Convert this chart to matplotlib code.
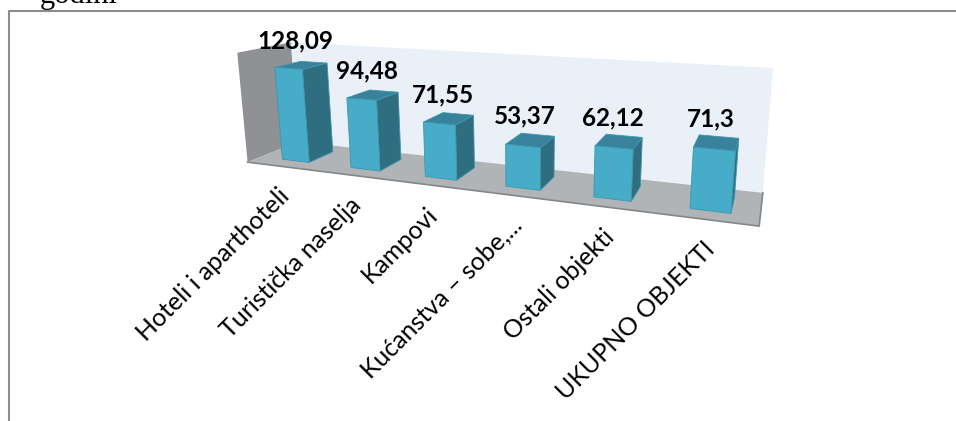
import numpy as np
import matplotlib
matplotlib.use("Agg")
import matplotlib.pyplot as plt
from matplotlib.patches import Polygon

categories = ["Hoteli i aparthoteli", "Turistička naselja", "Kampovi",
              "Kućanstva – sobe,...", "Ostali objekti", "UKUPNO OBJEKTI"]
values = [128.09, 94.48, 71.55, 53.37, 62.12, 71.3]
value_labels = ["128,09", "94,48", "71,55", "53,37", "62,12", "71,3"]
axis_max = 150

# box corners (x along categories, depth, height) and where they land on the page
box = np.array([[0, 0, 0], [1, 0, 0], [0, 1, 0], [1, 1, 0],
                [0, 0, 1], [0, 1, 1], [1, 1, 1]], float)
page = np.array([[248, 163], [759, 226], [298, 141], [763, 193],
                 [237, 52], [291, 43], [773, 68]], float)

# solve the camera (12 entries, last one fixed to 1)
A, b = [], []
for (X, Y, Z), (u, v) in zip(box, page):
    A.append([X, Y, Z, 1, 0, 0, 0, 0, -u * X, -u * Y, -u * Z])
    A.append([0, 0, 0, 0, X, Y, Z, 1, -v * X, -v * Y, -v * Z])
    b += [u, v]
cam = np.append(np.linalg.lstsq(np.array(A), np.array(b), rcond=None)[0], 1).reshape(3, 4)


def proj(X, Y, Z):
    p = cam @ np.array([X, Y, Z, 1.0])
    return p[:2] / p[2]


def face(ax, pts, **kw):
    ax.add_patch(Polygon([proj(*q) for q in pts], closed=True, **kw))


fig = plt.figure(figsize=(9.56, 4.21), dpi=100)
ax = fig.add_axes([0, 0, 1, 1])
ax.set_xlim(0, 956)
ax.set_ylim(421, 0)
ax.axis("off")

# page frame and the clipped line of text above it
ax.plot([9.5, 9.5, 956], [421, 11, 11], color="#8c8c8c", lw=1.5)
ax.text(40, 3, "godini", family="Liberation Serif", fontsize=22, color="black", va="baseline")

# walls and floor
face(ax, [(0, 1, 0), (1, 1, 0), (1, 1, 1), (0, 1, 1)], fc="#e9f0f7", ec="none")
face(ax, [(0, 0, 0), (0, 1, 0), (0, 1, 1), (0, 0, 1)], fc="#8f9194", ec="none")
face(ax, [(0, 0, 0), (1, 0, 0), (1, 1, 0), (0, 1, 0)], fc="#b0b4b7", ec="none")
ax.plot(*np.array([proj(0, 0, 0), proj(1, 0, 0), proj(1, 1, 0)]).T, color="#858688", lw=1.2)

n = len(values)
half_w = 0.2 / n
for i, v in enumerate(values):
    c = (i + 0.5) / n + 0.004
    l, r = c - half_w, c + half_w
    d0, d1, h = 0.25, 0.75, v / axis_max
    line = dict(ec="#3f96ae", lw=0.6)
    face(ax, [(r, d0, 0), (r, d1, 0), (r, d1, h), (r, d0, h)], fc="#2f6e80", **line)
    face(ax, [(l, d0, h), (r, d0, h), (r, d1, h), (l, d1, h)], fc="#38839b", **line)
    face(ax, [(l, d0, 0), (r, d0, 0), (r, d0, h), (l, d0, h)], fc="#47acc8", **line)
    tx, ty = proj(c, 0.5, h)
    ax.text(tx - 6, ty - 24, value_labels[i], family="Lato", weight="bold", fontsize=17.5,
            ha="center", va="center", color="black")
    ax_x, ax_y = proj(c, 0, 0)
    ax.text(ax_x - 5, ax_y + 18, categories[i], family="Lato", fontsize=18, rotation=45,
            rotation_mode="anchor", ha="right", va="top", color="black")

fig.savefig("out.png", dpi=100)
